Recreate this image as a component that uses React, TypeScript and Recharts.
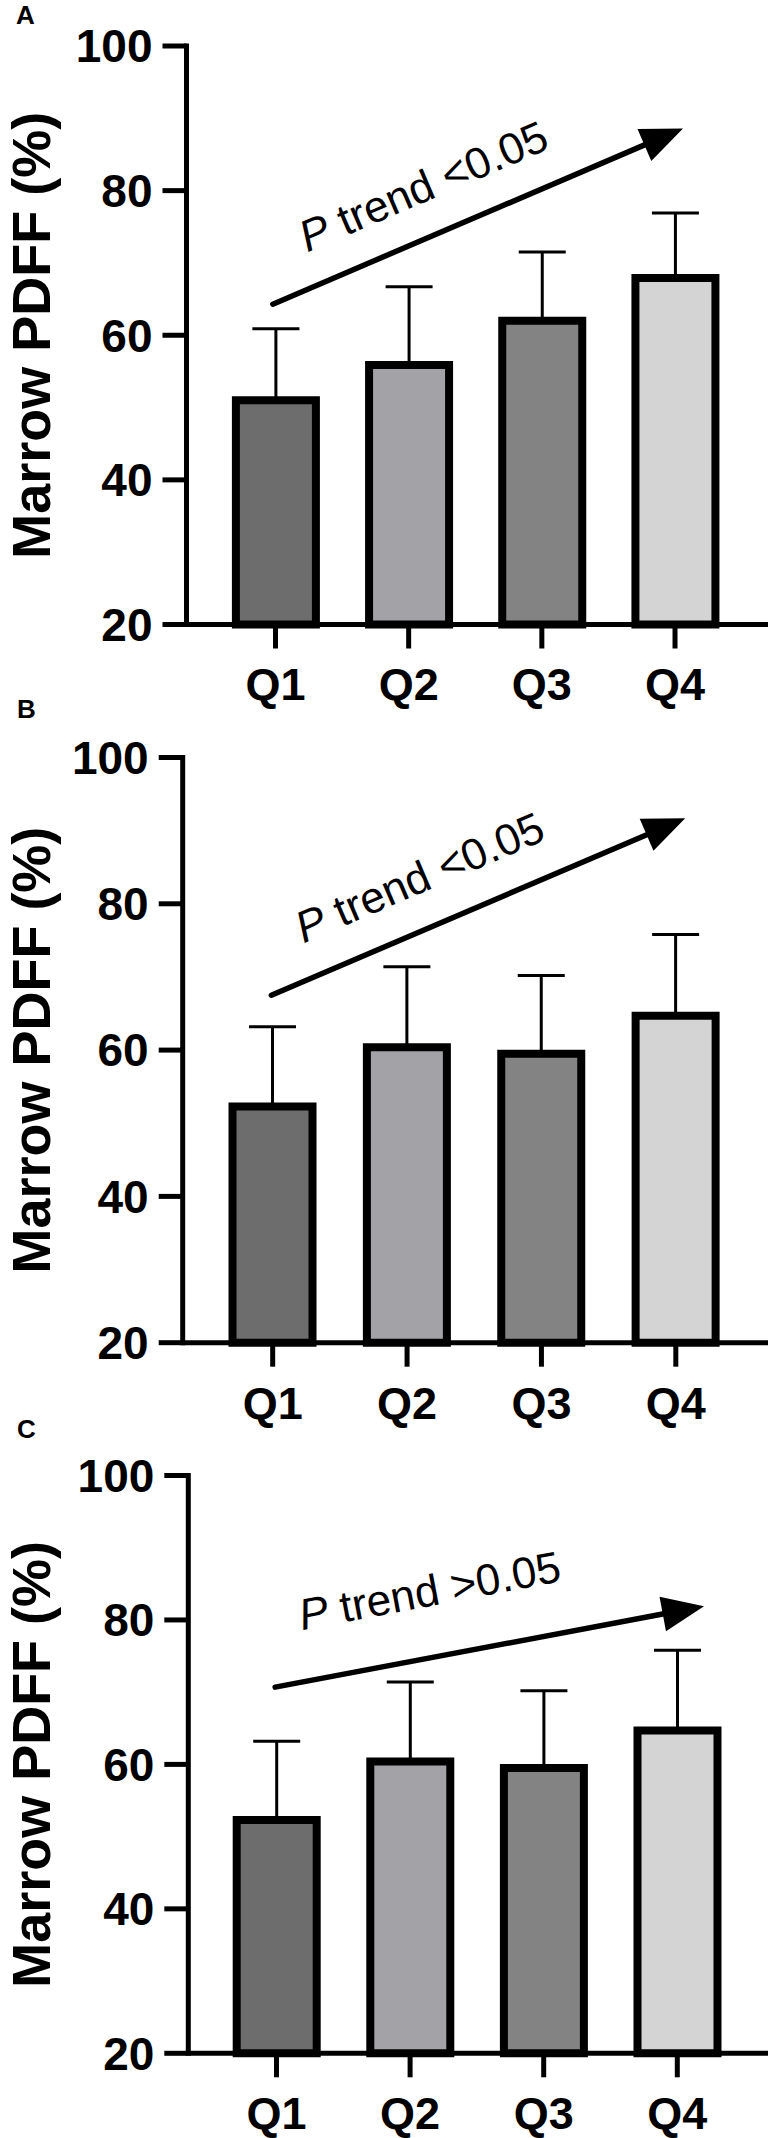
import React from 'react';
import { BarChart, Bar, Cell, ErrorBar, XAxis, YAxis, ReferenceLine, Label } from 'recharts';

const quartiles = ['Q1', 'Q2', 'Q3', 'Q4'];
const yTicks = [20, 40, 60, 80, 100];

// panel A
const meanA = [51.0, 55.9, 62.0, 67.9];
const sdA = [9.9, 10.8, 9.5, 9.0];
// trend arrow: start / tip, x in quartile units (1 = Q1 centre)
const trendA = [{ x: 0.98, y: 64.3 }, { x: 4.06, y: 88.6 }];

// panel B
const meanB = [52.3, 60.4, 59.5, 64.7];
const sdB = [10.9, 11.0, 10.7, 11.1];
const trendB = [{ x: 0.99, y: 67.5 }, { x: 4.07, y: 91.7 }];

// panel C
const meanC = [52.3, 60.4, 59.5, 64.7];
const sdC = [10.9, 11.0, 10.7, 11.1];
const trendC = [{ x: 0.99, y: 70.7 }, { x: 4.2, y: 81.9 }];

const trendTexts = [' trend <0.05', ' trend <0.05', ' trend >0.05'];

const FONT = "'Liberation Sans', Arial, Helvetica, sans-serif";
const fills = ['#6d6d6d', '#a3a2a6', '#838383', '#d4d4d4'];

const TrendArrow = (props: any) => {
  const { text, along, above, trend } = props;
  // ReferenceLine gives Q1 and Q4 band centres; place ends in quartile units
  const step = (props.x2 - props.x1) / 3;
  const x1 = props.x1 + (trend[0].x - 1) * step;
  const x2 = props.x1 + (trend[1].x - 1) * step;
  const y1 = props.y1;
  const y2 = props.y2;
  const dx = x2 - x1;
  const dy = y2 - y1;
  const len = Math.hypot(dx, dy);
  const ux = dx / len;
  const uy = dy / len;
  const nx = uy;
  const ny = -ux;
  const headLen = 42;
  const headHalf = 17.5;
  const bx = x2 - ux * headLen;
  const by = y2 - uy * headLen;
  const tx = x1 + ux * along + nx * above;
  const ty = y1 + uy * along + ny * above;
  const angle = (Math.atan2(dy, dx) * 180) / Math.PI;
  return (
    <g>
      <line x1={x1} y1={y1} x2={bx + ux * 4} y2={by + uy * 4} stroke="#000" strokeWidth={5.5} strokeLinecap="round" />
      <polygon
        points={`${x2},${y2} ${bx + nx * headHalf},${by + ny * headHalf} ${bx - nx * headHalf},${by - ny * headHalf}`}
        fill="#000"
      />
      <text x={tx} y={ty} transform={`rotate(${angle} ${tx} ${ty})`} fontFamily={FONT} fontSize={44} fill="#000">
        <tspan fontStyle="italic">P</tspan>
        {text}
      </text>
    </g>
  );
};

type PanelProps = {
  means: number[];
  sds: number[];
  trend: { x: number; y: number }[];
  trendText: string;
  top: number;
  plotTop: number;
  plotBottom: number;
  axisX: number;
  padL: number;
  padR: number;
  along: number;
  above: number;
};

const Panel = (p: PanelProps) => {
  const rows = quartiles.map((q, i) => ({ q, mean: p.means[i], err: [0, p.sds[i]] }));
  const xAxisH = 96;
  const height = p.plotBottom - p.top + xAxisH;
  const tickFont = { fill: '#000', fontSize: 46, fontWeight: 700, fontFamily: FONT };
  const axisStroke = { stroke: '#000', strokeWidth: 5 };
  return (
    <div style={{ position: 'absolute', left: 0, top: p.top }}>
      <BarChart
        width={768}
        height={height}
        data={rows}
        margin={{ top: p.plotTop - p.top, right: 0, bottom: 0, left: 0 }}
      >
        <XAxis
          dataKey="q"
          height={xAxisH}
          padding={{ left: p.padL, right: p.padR }}
          interval={0}
          tickSize={24}
          tickMargin={20}
          tick={{ ...tickFont, fontSize: 45 }}
          axisLine={axisStroke}
          tickLine={axisStroke}
        />
        <YAxis
          type="number"
          domain={[20, 100]}
          ticks={yTicks}
          interval={0}
          width={p.axisX}
          tickSize={24}
          tickMargin={10}
          tick={tickFont}
          axisLine={{ ...axisStroke, strokeLinecap: 'square' }}
          tickLine={axisStroke}
        >
          <Label
            content={(lp: any) => {
              const vb = lp.viewBox || { x: 0, y: p.plotTop - p.top, height: p.plotBottom - p.plotTop };
              const cx = vb.x + 50;
              const cy = vb.y + vb.height / 2;
              return (
                <text
                  x={cx}
                  y={cy}
                  transform={`rotate(-90 ${cx} ${cy})`}
                  textAnchor="middle"
                  fontFamily={FONT}
                  fontWeight={700}
                  fontSize={54}
                  fill="#000"
                >
                  Marrow PDFF (%)
                </text>
              );
            }}
          />
        </YAxis>
        <Bar dataKey="mean" barSize={80} stroke="#000" strokeWidth={8} isAnimationActive={false}>
          {rows.map((r, i) => (
            <Cell key={r.q} fill={fills[i]} />
          ))}
          <ErrorBar dataKey="err" direction="y" width={23.5} stroke="#000" strokeWidth={3} isAnimationActive={false} />
        </Bar>
        <ReferenceLine
          segment={[
            { x: quartiles[0], y: p.trend[0].y },
            { x: quartiles[3], y: p.trend[1].y },
          ]}
          ifOverflow="visible"
          shape={(lp: any) => (
            <TrendArrow {...lp} trend={p.trend} text={p.trendText} along={p.along} above={p.above} />
          )}
        />
      </BarChart>
    </div>
  );
};

const App = () => {
  return (
    <div
      style={{
        position: 'absolute',
        left: 0,
        top: 0,
        width: 768,
        height: 2138,
        background: '#fff',
        overflow: 'hidden',
      }}
    >
      <Panel
        means={meanA}
        sds={sdA}
        trend={trendA}
        trendText={trendTexts[0]}
        top={0}
        plotTop={46}
        plotBottom={624.5}
        axisX={186.5}
        padL={22.4}
        padR={26.4}
        along={52}
        above={34}
      />
      <Panel
        means={meanB}
        sds={sdB}
        trend={trendB}
        trendText={trendTexts[1]}
        top={711}
        plotTop={757.5}
        plotBottom={1342.7}
        axisX={182.7}
        padL={22.8}
        padR={25}
        along={50}
        above={35}
      />
      <Panel
        means={meanC}
        sds={sdC}
        trend={trendC}
        trendText={trendTexts[2]}
        top={1430}
        plotTop={1475.5}
        plotBottom={2053.3}
        axisX={188.3}
        padL={21.4}
        padR={23.9}
        along={37}
        above={51}
      />
      <svg width={768} height={2138} style={{ position: 'absolute', left: 0, top: 0, pointerEvents: 'none' }}>
        <text x={16} y={24} fontFamily={FONT} fontWeight={700} fontSize={26} fill="#000">A</text>
        <text x={17} y={718} fontFamily={FONT} fontWeight={700} fontSize={26} fill="#000">B</text>
        <text x={17} y={1438} fontFamily={FONT} fontWeight={700} fontSize={26} fill="#000">C</text>
      </svg>
    </div>
  );
};

export default App;
